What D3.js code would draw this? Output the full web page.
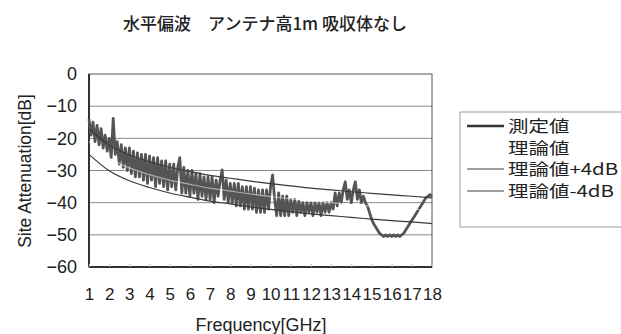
<!DOCTYPE html>
<html><head><meta charset="utf-8">
<script src="https://cdn.jsdelivr.net/npm/d3@7"></script>
<style>
html,body{margin:0;padding:0;background:#fff;}
svg{display:block;}
text{font-family:"Liberation Sans",Arial,sans-serif;fill:#222;}
.cjk{font-family:"Noto Sans CJK JP","Noto Sans CJK SC",sans-serif;}
</style></head>
<body>
<script>
const title = "水平偏波　アンテナ高1m 吸収体なし";
const xTitle = "Frequency[GHz]";
const yTitle = "Site Attenuation[dB]";
const legendLabels = ["測定値", "理論値", "理論値+4dB", "理論値-4dB"];
const xTickValues = [1,2,3,4,5,6,7,8,9,10,11,12,13,14,15,16,17,18];
const yTickValues = [0,-10,-20,-30,-40,-50,-60];

// theoretical NSA at integer GHz
const theoryFreq = [1,2,3,4,5,6,7,8,9,10,11,12,13,14,15,16,17,18];
const theory = [-21.0,-26.1,-29.2,-31.3,-33.0,-34.3,-35.5,-36.4,-37.3,-38.1,-38.8,-39.5,-40.0,-40.6,-41.1,-41.6,-42.0,-42.5];
const theoryPlus4 = [-17.0,-22.1,-25.2,-27.3,-29.0,-30.3,-31.5,-32.4,-33.3,-34.1,-34.8,-35.5,-36.0,-36.6,-37.1,-37.6,-38.0,-38.5];
const theoryMinus4 = [-25.0,-30.1,-33.2,-35.3,-37.0,-38.3,-39.5,-40.4,-41.3,-42.1,-42.8,-43.5,-44.0,-44.6,-45.1,-45.6,-46.0,-46.5];

// measured, 1.0 GHz to 18.0 GHz in 0.1 GHz steps
const measStart = 1.0, measStep = 0.1;
const measured = [
-14,-19,-15,-21,-16,-22,-17,-23,-19,-24,
-20,-26,-13.8,-25,-21,-28,-22,-29,-23,-30,
-23,-31,-24,-32,-24.5,-32,-25,-33,-25,-34,
-25.5,-33,-26,-35,-26,-34,-27,-35,-27,-36,
-28,-35,-28,-36,-29,-26,-37,-29,-37,-30,
-38,-30,-37,-31,-39,-31,-38,-32,-39,-32,
-39,-32,-40,-33,-38,-33,-29.8,-39,-33,-40,
-34,-40,-34,-41,-34,-41,-35,-42,-35,-42,
-35,-42,-35.5,-43,-36,-43,-36,-43,-36,-42,
-35,-31.4,-39,-44,-37,-44,-38,-44,-38,-44,
-39,-43,-39,-44,-39.5,-43,-40,-44,-40,-43,
-40,-44,-40,-43,-40,-44,-40,-43,-40,-43,
-40,-42,-37,-41,-37,-40,-36,-33.5,-39,-36,
-40,-36,-33.5,-39,-36,-40,-38,-40,-41,-43,
-45,-46.5,-47.5,-48.5,-49.5,-50,-50.5,-50,-50.5,-50,
-50.5,-50,-50.5,-50,-50.5,-50,-49.5,-48.5,-47.5,-46.5,
-45.5,-44.5,-43.5,-42.5,-41.5,-40.5,-39.5,-38.5,-38,-37.5,
-38
];

const W = 621, H = 334;
const m = {left: 89, right: 432, top: 74, bottom: 267};

const svg = d3.select("body").append("svg").attr("width", W).attr("height", H);

const x = d3.scaleLinear().domain([1, 18]).range([m.left, m.right]);
const y = d3.scaleLinear().domain([-60, 0]).range([m.bottom, m.top]);

// title
svg.append("text").attr("class","cjk").attr("x", 265).attr("y", 30)
  .attr("text-anchor","middle").attr("font-size", 17).attr("font-weight", 500).text(title);

// gridlines
svg.append("g").selectAll("line").data(yTickValues.filter(d => d > -60 && d < 0)).join("line")
  .attr("x1", m.left).attr("x2", m.right)
  .attr("y1", d => y(d)).attr("y2", d => y(d))
  .attr("stroke", "#8a8a8a").attr("stroke-width", 1);

// plot frame
svg.append("rect").attr("x", m.left).attr("y", m.top)
  .attr("width", m.right - m.left).attr("height", m.bottom - m.top)
  .attr("fill", "none").attr("stroke", "#555").attr("stroke-width", 1);
svg.append("line").attr("x1", m.left).attr("x2", m.left).attr("y1", m.top).attr("y2", m.bottom)
  .attr("stroke", "#333").attr("stroke-width", 2);
svg.append("line").attr("x1", m.left).attr("x2", m.right).attr("y1", m.bottom).attr("y2", m.bottom)
  .attr("stroke", "#333").attr("stroke-width", 2);

// y axis
const yAxis = d3.axisLeft(y).tickValues(yTickValues).tickSize(0).tickPadding(12)
  .tickFormat(d => d === 0 ? "0" : "\u2212" + Math.abs(d));
const gy = svg.append("g").attr("transform", `translate(${m.left},0)`).call(yAxis);
gy.select(".domain").remove();
gy.selectAll("text").attr("font-size", 18).attr("fill", "#222")
  .attr("font-family", '"Liberation Sans", Arial, sans-serif');

// x axis
const xAxis = d3.axisBottom(x).tickValues(xTickValues).tickSize(3).tickPadding(0).tickFormat(d3.format("d"));
const gx = svg.append("g").attr("transform", `translate(0,${m.bottom})`).call(xAxis);
gx.select(".domain").remove();
gx.selectAll(".tick line").attr("y2", -3).attr("stroke", "#bbb");
gx.selectAll("text").attr("font-size", 17).attr("fill", "#222").attr("y", 21).attr("dy", "0.71em")
  .attr("font-family", '"Liberation Sans", Arial, sans-serif');

// axis titles
svg.append("text").attr("x", 261).attr("y", 331).attr("text-anchor","middle")
  .attr("font-size", 18).text(xTitle);
svg.append("text").attr("transform", "translate(31,171) rotate(-90)").attr("text-anchor","middle")
  .attr("font-size", 17.5).text(yTitle);

// lines
const theoryLine = d3.line().x((d,i) => x(theoryFreq[i])).y(d => y(d)).curve(d3.curveMonotoneX);
const measLine = d3.line().x((d,i) => x(measStart + i*measStep)).y(d => y(d));

const plot = svg.append("g");
plot.append("path").datum(measured).attr("d", measLine)
  .attr("fill","none").attr("stroke","#555").attr("stroke-width", 2.8).attr("stroke-linejoin","round");
plot.append("path").datum(theory).attr("d", theoryLine)
  .attr("fill","none").attr("stroke","#ffffff").attr("stroke-width", 1.2).attr("stroke-opacity", 0.5);
plot.append("path").datum(theoryPlus4).attr("d", theoryLine)
  .attr("fill","none").attr("stroke","#3a3a3a").attr("stroke-width", 1.2);
plot.append("path").datum(theoryMinus4).attr("d", theoryLine)
  .attr("fill","none").attr("stroke","#3a3a3a").attr("stroke-width", 1.2);

// legend
const lg = svg.append("g");
lg.append("path").attr("d", `M${W+5},112 H460 V227 H${W+5}`)
  .attr("fill","none").attr("stroke","#999").attr("stroke-width", 1);
const legStyles = [
  {stroke:"#333", w:2.6},
  {stroke:"none", w:0},
  {stroke:"#444", w:1.1},
  {stroke:"#444", w:1.1}
];
const legY = [126, 148, 169, 191];
legendLabels.forEach((lab, i) => {
  if (legStyles[i].stroke !== "none") {
    lg.append("line").attr("x1", 467).attr("x2", 504).attr("y1", legY[i]).attr("y2", legY[i])
      .attr("stroke", legStyles[i].stroke).attr("stroke-width", legStyles[i].w);
  }
  lg.append("text").attr("class","cjk")
    .attr("transform", `translate(508,${legY[i] + 6}) scale(1.28,1)`)
    .attr("font-size", 16).text(lab);
});
</script>
</body></html>
